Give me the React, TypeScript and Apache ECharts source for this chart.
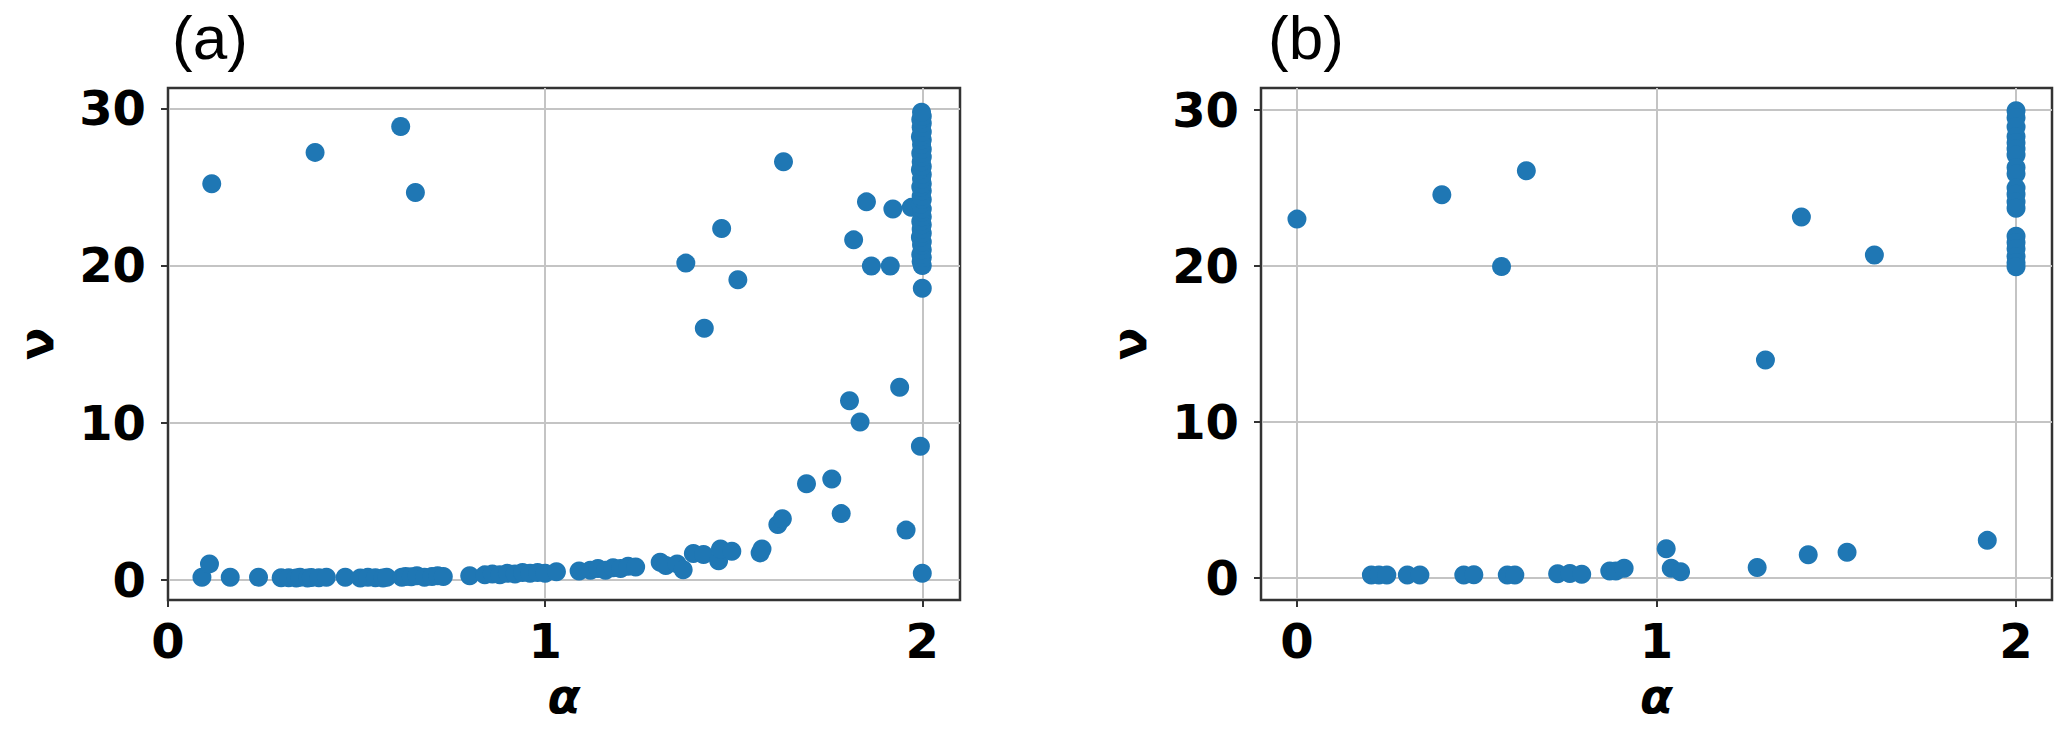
import React, { useEffect, useRef } from 'react';
import * as echarts from 'echarts';

// ---- data (alpha, nu) ----
const xTickValues = [0, 1, 2];
const yTickValues = [0, 10, 20, 30];

const panelALow: number[][] = [
  [0.09, 0.15], [0.11, 1.0], [0.165, 0.15], [0.24, 0.15],
  [0.30, 0.12], [0.32, 0.12], [0.34, 0.1], [0.35, 0.15], [0.37, 0.1], [0.38, 0.13], [0.40, 0.12], [0.42, 0.15],
  [0.47, 0.15],
  [0.51, 0.1], [0.53, 0.15], [0.55, 0.12], [0.57, 0.1], [0.58, 0.15],
  [0.62, 0.15], [0.63, 0.2], [0.645, 0.18], [0.66, 0.25], [0.68, 0.15], [0.70, 0.2], [0.715, 0.25], [0.73, 0.2],
  [0.80, 0.25],
  [0.84, 0.3], [0.86, 0.35], [0.88, 0.3], [0.90, 0.4], [0.92, 0.35], [0.94, 0.45], [0.96, 0.4], [0.98, 0.45], [1.0, 0.4], [1.03, 0.5],
  [1.09, 0.55], [1.12, 0.6], [1.14, 0.7], [1.16, 0.6], [1.18, 0.75], [1.20, 0.7], [1.22, 0.85], [1.24, 0.8],
  [1.305, 1.1], [1.32, 0.9], [1.35, 1.0], [1.366, 0.63], [1.393, 1.66], [1.42, 1.6], [1.46, 1.2], [1.465, 1.95],
  [1.495, 1.8], [1.57, 1.7], [1.575, 1.95], [1.617, 3.5], [1.629, 3.87], [1.785, 4.2], [1.957, 3.15], [2.0, 0.4],
];

const panelAHigh: number[][] = [
  [0.116, 25.2], [0.39, 27.2], [0.617, 28.85], [0.656, 24.65], [1.632, 26.6], [1.852, 24.05], [1.922, 23.6],
  [1.971, 23.7], [1.468, 22.36], [1.818, 21.63], [1.373, 20.15], [1.865, 19.97], [1.915, 19.97], [1.511, 19.09],
  [2.0, 18.55], [1.422, 16.0], [1.94, 12.24], [1.807, 11.39], [1.835, 10.03], [1.995, 8.49], [1.76, 6.4], [1.693, 6.1],
];

const panelAStack: number[][] = [
  [2.0, 20.0], [1.997, 20.25], [2.0, 20.5], [1.996, 20.7], [2.0, 21.0], [1.998, 21.3], [2.0, 21.5], [1.995, 21.8],
  [2.0, 22.05], [1.997, 22.3], [2.0, 22.6], [1.996, 22.8], [2.0, 23.1], [1.998, 23.4], [2.0, 23.6], [1.995, 23.9],
  [2.0, 24.2], [1.997, 24.4], [2.0, 24.75], [1.996, 25.0], [2.0, 25.2], [1.998, 25.5], [2.0, 25.8], [1.995, 26.1],
  [2.0, 26.3], [1.997, 26.6], [2.0, 26.9], [1.996, 27.15], [2.0, 27.4], [1.998, 27.7], [2.0, 28.0], [1.995, 28.2],
  [2.0, 28.5], [1.997, 28.8], [2.0, 29.05], [1.996, 29.3], [2.0, 29.5], [1.998, 29.75],
];

const panelBScatter: number[][] = [
  [0.0, 23.0], [0.403, 24.56], [0.638, 26.1], [0.569, 19.97], [1.403, 23.13], [1.606, 20.7], [1.303, 13.98],
  [1.027, 1.88], [1.92, 2.42], [1.422, 1.5], [1.53, 1.66], [1.28, 0.68], [1.041, 0.63], [1.067, 0.41],
  [0.207, 0.2], [0.228, 0.2], [0.25, 0.2], [0.307, 0.2], [0.342, 0.2], [0.464, 0.2], [0.492, 0.22],
  [0.585, 0.2], [0.606, 0.2], [0.725, 0.28], [0.759, 0.3], [0.792, 0.25], [0.87, 0.46], [0.887, 0.46], [0.91, 0.63],
];

const panelBStack: number[][] = [
  [2.0, 29.95], [2.0, 29.5], [2.0, 28.9], [2.0, 28.3], [2.0, 27.9], [2.0, 27.5], [2.0, 27.1], [2.0, 26.3],
  [2.0, 25.9], [2.0, 25.0], [2.0, 24.6], [2.0, 24.1], [2.0, 23.7],
  [2.0, 21.9], [2.0, 21.5], [2.0, 21.1], [2.0, 20.6], [2.0, 20.2], [2.0, 19.95],
];

const BLUE = '#1f77b4';
const FONT = 'DejaVu Sans';

function xAxis(gridIndex: number, min: number, max: number) {
  return {
    type: 'value', gridIndex, min, max,
    axisLine: { show: true, onZero: false, lineStyle: { color: '#333', width: 2 } },
    axisTick: { show: true, customValues: xTickValues, length: 7, lineStyle: { color: '#333', width: 2 } },
    axisLabel: { customValues: xTickValues, fontSize: 48, fontWeight: 'bold', fontFamily: FONT, color: '#000', margin: 17 },
    splitLine: { show: true, lineStyle: { color: '#c4c4c4', width: 2 } },
    name: 'α', nameLocation: 'middle', nameGap: 72,
    nameTextStyle: { fontSize: 48, fontWeight: 'bold', fontStyle: 'italic', fontFamily: FONT, color: '#000' },
  };
}

function yAxis(gridIndex: number, min: number, max: number) {
  return {
    type: 'value', gridIndex, min, max,
    axisLine: { show: true, onZero: false, lineStyle: { color: '#333', width: 2 } },
    axisTick: { show: true, customValues: yTickValues, length: 7, lineStyle: { color: '#333', width: 2 } },
    axisLabel: { customValues: yTickValues, fontSize: 48, fontWeight: 'bold', fontFamily: FONT, color: '#000', margin: 22 },
    splitLine: { show: true, lineStyle: { color: '#c4c4c4', width: 2 } },
    name: 'ν', nameLocation: 'middle', nameGap: 108, nameRotate: 90,
    nameTextStyle: { fontSize: 48, fontWeight: 'bold', fontFamily: FONT, color: '#000' },
  };
}

export default function App() {
  const ref = useRef<HTMLDivElement>(null);
  useEffect(() => {
    if (!ref.current) return;
    const chart = echarts.init(ref.current, undefined, { renderer: 'svg' });
    chart.setOption({
      animation: false,
      backgroundColor: '#fff',
      grid: [
        { left: 168, top: 88, width: 792, height: 512, show: true, borderColor: '#333', borderWidth: 2.5, backgroundColor: 'transparent' },
        { left: 1261, top: 88, width: 791, height: 512, show: true, borderColor: '#333', borderWidth: 2.5, backgroundColor: 'transparent' },
      ],
      xAxis: [xAxis(0, 0, 2.1), xAxis(1, -0.1, 2.1)],
      yAxis: [yAxis(0, -1.3, 31.3), yAxis(1, -1.4, 31.4)],
      graphic: [
        { type: 'text', left: 172, top: 6, style: { text: '(a)', font: '62px "Liberation Sans"', fill: '#000' } },
        { type: 'text', left: 1268, top: 6, style: { text: '(b)', font: '62px "Liberation Sans"', fill: '#000' } },
      ],
      series: [
        { type: 'scatter', xAxisIndex: 0, yAxisIndex: 0, data: [...panelALow, ...panelAHigh, ...panelAStack], symbolSize: 19, itemStyle: { color: BLUE, opacity: 1 } },
        { type: 'scatter', xAxisIndex: 1, yAxisIndex: 1, data: [...panelBScatter, ...panelBStack], symbolSize: 19, itemStyle: { color: BLUE, opacity: 1 } },
      ],
    });
    return () => chart.dispose();
  }, []);
  return <div ref={ref} style={{ position: 'absolute', left: 0, top: 0, width: 2067, height: 739 }} />;
}
